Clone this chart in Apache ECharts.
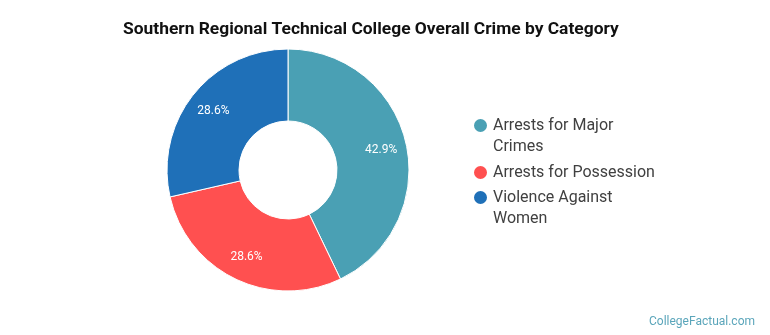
<!DOCTYPE html>
<html>
<head>
<meta charset="utf-8">
<script src="https://cdn.jsdelivr.net/npm/echarts@6/dist/echarts.min.js"></script>
<style>
  html, body { margin: 0; padding: 0; background: #fff; }
  #chart { width: 770px; height: 335px; }
</style>
</head>
<body>
<div id="chart"></div>
<script>
var categories = ['Arrests for Major Crimes', 'Arrests for Possession', 'Violence Against Women'];
var counts = [3, 2, 2];
var colors = ['#4aa0b4', '#ff5050', '#1f70b8'];
// legend rows: top of each entry, and whether its label wraps onto a second line
var legendTops = [94, 162, 166];
var legendWraps = [true, false, true];

var chart = echarts.init(document.getElementById('chart'));

// one legend per entry so the marker sits beside the first text line
// (an empty leading line pushes a wrapped label down under the marker)
var legends = categories.map(function (c, i) {
  return {
    orient: 'vertical',
    left: 472,
    top: legendTops[i],
    padding: 0,
    itemWidth: 15,
    itemHeight: 15,
    icon: 'circle',
    data: [c],
    formatter: function (name) {
      return legendWraps[i] ? '\n' + name : name;
    },
    textStyle: {
      fontFamily: 'Roboto',
      fontSize: 16,
      color: '#404040',
      lineHeight: 21,
      width: 165,
      overflow: 'break'
    }
  };
});

var sliceData = categories.map(function (c, i) {
  return { name: c, value: counts[i], itemStyle: { color: colors[i] } };
});

var option = {
  title: {
    text: 'Southern Regional Technical College Overall Crime by Category',
    left: 118,
    top: 16,
    textStyle: {
      fontFamily: 'Roboto',
      fontWeight: 'bold',
      fontSize: 17.4,
      color: '#111'
    }
  },
  legend: legends,
  graphic: [{
    type: 'text',
    right: 15,
    bottom: 7,
    style: {
      text: 'CollegeFactual.com',
      fill: '#5aa5ba',
      font: '12px Roboto'
    }
  }],
  series: [{
    type: 'pie',
    center: [288, 170],
    radius: [49, 121],
    startAngle: 90,
    clockwise: true,
    animation: false,
    itemStyle: { borderColor: '#fff', borderWidth: 1 },
    label: { show: false },
    labelLine: { show: false },
    emphasis: { disabled: true },
    data: sliceData
  }, {
    // transparent ring, only carries the percent labels a bit further out
    type: 'pie',
    center: [288, 171],
    radius: [64, 121],
    startAngle: 90,
    clockwise: true,
    animation: false,
    silent: true,
    itemStyle: { color: 'rgba(0,0,0,0)', borderWidth: 0 },
    label: {
      position: 'inside',
      color: '#fff',
      fontFamily: 'Roboto',
      fontSize: 12,
      formatter: function (p) { return p.percent.toFixed(1) + '%'; }
    },
    labelLine: { show: false },
    emphasis: { disabled: true },
    data: categories.map(function (c, i) {
      return { name: c, value: counts[i] };
    })
  }]
};

chart.setOption(option);
</script>
</body>
</html>
